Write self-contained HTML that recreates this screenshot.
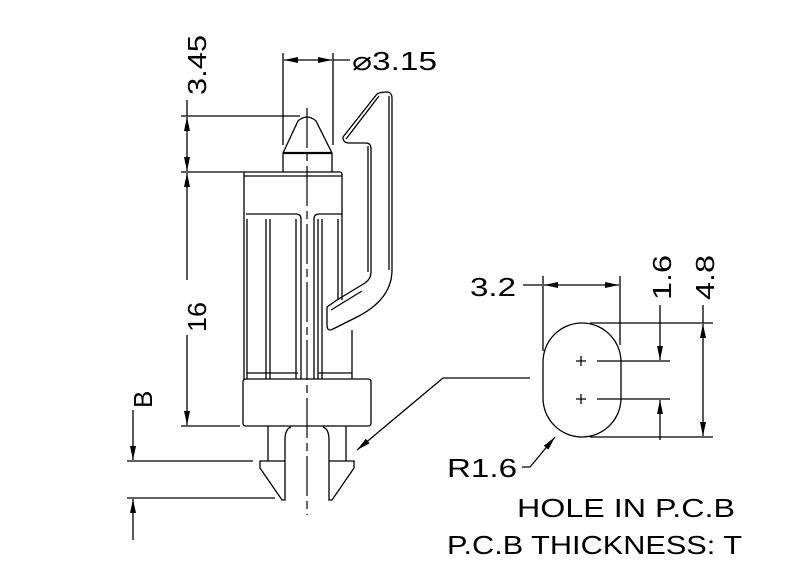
<!DOCTYPE html>
<html><head><style>html,body{margin:0;padding:0;background:#fff}svg{display:block}</style></head>
<body>
<svg width="800" height="577" viewBox="0 0 800 577" xmlns="http://www.w3.org/2000/svg" font-family="'Liberation Sans', sans-serif">
<defs>
<marker id="a" viewBox="0 0 14 6" refX="14" refY="3" markerWidth="14" markerHeight="6" orient="auto" markerUnits="userSpaceOnUse"><path d="M0,0 L14,3 L0,6 z" fill="#000"/></marker>
</defs>
<g stroke="#000" stroke-width="1.3" fill="none">
<path d="M307,108 V515" stroke-dasharray="40,5,8,5" stroke-width="1.2"/>
<path d="M283,172 V153 L298,121 Q307,113 316,121 L332,153 V172"/>
<path d="M283,153 H332" stroke-width="2.2"/>
<path d="M244,172 H340 Q342,172 342,175 V300"/>
<path d="M244,172 V379"/>
<path d="M244,176 H342"/>
<path d="M246,214 H296 Q301,214 301,219 V379"/>
<path d="M247,219 V379 M266,219 V379 M270,219 V379 M296,219 V379"/>
<path d="M314,379 V219 Q314,214 319,214 H342"/>
<path d="M318,219 V379 M322,219 V379 M338,219 V300"/>
<path d="M247,373 H298 M318,373 H352"/>
<path d="M352,330 V379"/>
<path d="M246,379 H368 Q371,379 371,382 V423 Q371,426 368,426 H246 Q243,426 243,423 V382 Q243,379 246,379"/>
<path d="M268,426 V461"/>
<path d="M285,461 V440 Q285,429 291,427"/>
<path d="M260,461 H285 V500 H282 L260,468 Z"/>
<path d="M346,426 V461"/>
<path d="M329,461 V440 Q329,429 323,427"/>
<path d="M329,461 H354 V468 L332,500 H329 Z"/>
<path d="M343,137 L377,94 Q380,92 388,92 Q392,93 392,98 V270 Q392,300 355,318 L333,329 Q327,332 327,325 V307 L337,300 L365,283 Q371,279 371,272 V149 Q371,143 366,143 H349 Q343,143 343,137 Z"/>
<path d="M346,139 L379,96 M389,96 V270 M368,146 V272 M331,310 L362,291"/>
<path d="M181,116 H300 M181,172 H244 M181,426 H240"/>
<path d="M187,100 V116" />
<path d="M187,144 V117" marker-end="url(#a)"/>
<path d="M187,144 V171" marker-end="url(#a)"/>
<path d="M187,280 V173" marker-end="url(#a)"/>
<path d="M187,335 V425" marker-end="url(#a)"/>
<path d="M283,53 V145 M333,53 V145"/>
<path d="M308,60 H284" marker-end="url(#a)"/>
<path d="M308,60 H332" marker-end="url(#a)"/>
<path d="M333,60 H350"/>
<path d="M127,461 H253 M127,498 H275"/>
<path d="M133,410 V460" marker-end="url(#a)"/>
<path d="M133,540 V499" marker-end="url(#a)"/>
<path d="M530,378 H443 L357,450" marker-end="url(#a)"/>
<path d="M543,362 A39,39 0 0 1 621,362 V398 A39,39 0 0 1 543,398 Z"/>
<path d="M576,361 H586 M581,356 V366 M576,399 H586 M581,394 V404"/>
<path d="M543,276 V351 M620,276 V345"/>
<path d="M523,285 H542"/>
<path d="M581,285 H544" marker-end="url(#a)"/>
<path d="M581,285 H619" marker-end="url(#a)"/>
<path d="M597,361 H670 M597,399 H670 M590,323 H713 M590,437 H713"/>
<path d="M660,305 V360" marker-end="url(#a)"/>
<path d="M660,440 V400" marker-end="url(#a)"/>
<path d="M703,380 V324" marker-end="url(#a)"/>
<path d="M703,380 V436" marker-end="url(#a)"/>
<path d="M703,305 V323"/>
<path d="M522,467 H530 L555,437" marker-end="url(#a)"/>
</g>
<g font-size="26" fill="#000">
<text transform="translate(206,95) rotate(-90)" textLength="60" lengthAdjust="spacingAndGlyphs">3.45</text>
<text transform="translate(206,332) rotate(-90)" textLength="30" lengthAdjust="spacingAndGlyphs">16</text>
<text transform="translate(152,408) rotate(-90)">B</text>
<text x="352" y="70" textLength="85" lengthAdjust="spacingAndGlyphs">⌀3.15</text>
<text x="470" y="296" textLength="46" lengthAdjust="spacingAndGlyphs">3.2</text>
<text transform="translate(671,300) rotate(-90)" textLength="45" lengthAdjust="spacingAndGlyphs">1.6</text>
<text transform="translate(714,300) rotate(-90)" textLength="45" lengthAdjust="spacingAndGlyphs">4.8</text>
<text x="447" y="477" textLength="70" lengthAdjust="spacingAndGlyphs">R1.6</text>
<text x="517" y="517" textLength="218" lengthAdjust="spacingAndGlyphs">HOLE IN P.C.B</text>
<text x="447" y="554" textLength="295" lengthAdjust="spacingAndGlyphs">P.C.B THICKNESS: T</text>
</g>
</svg>
</body></html>
